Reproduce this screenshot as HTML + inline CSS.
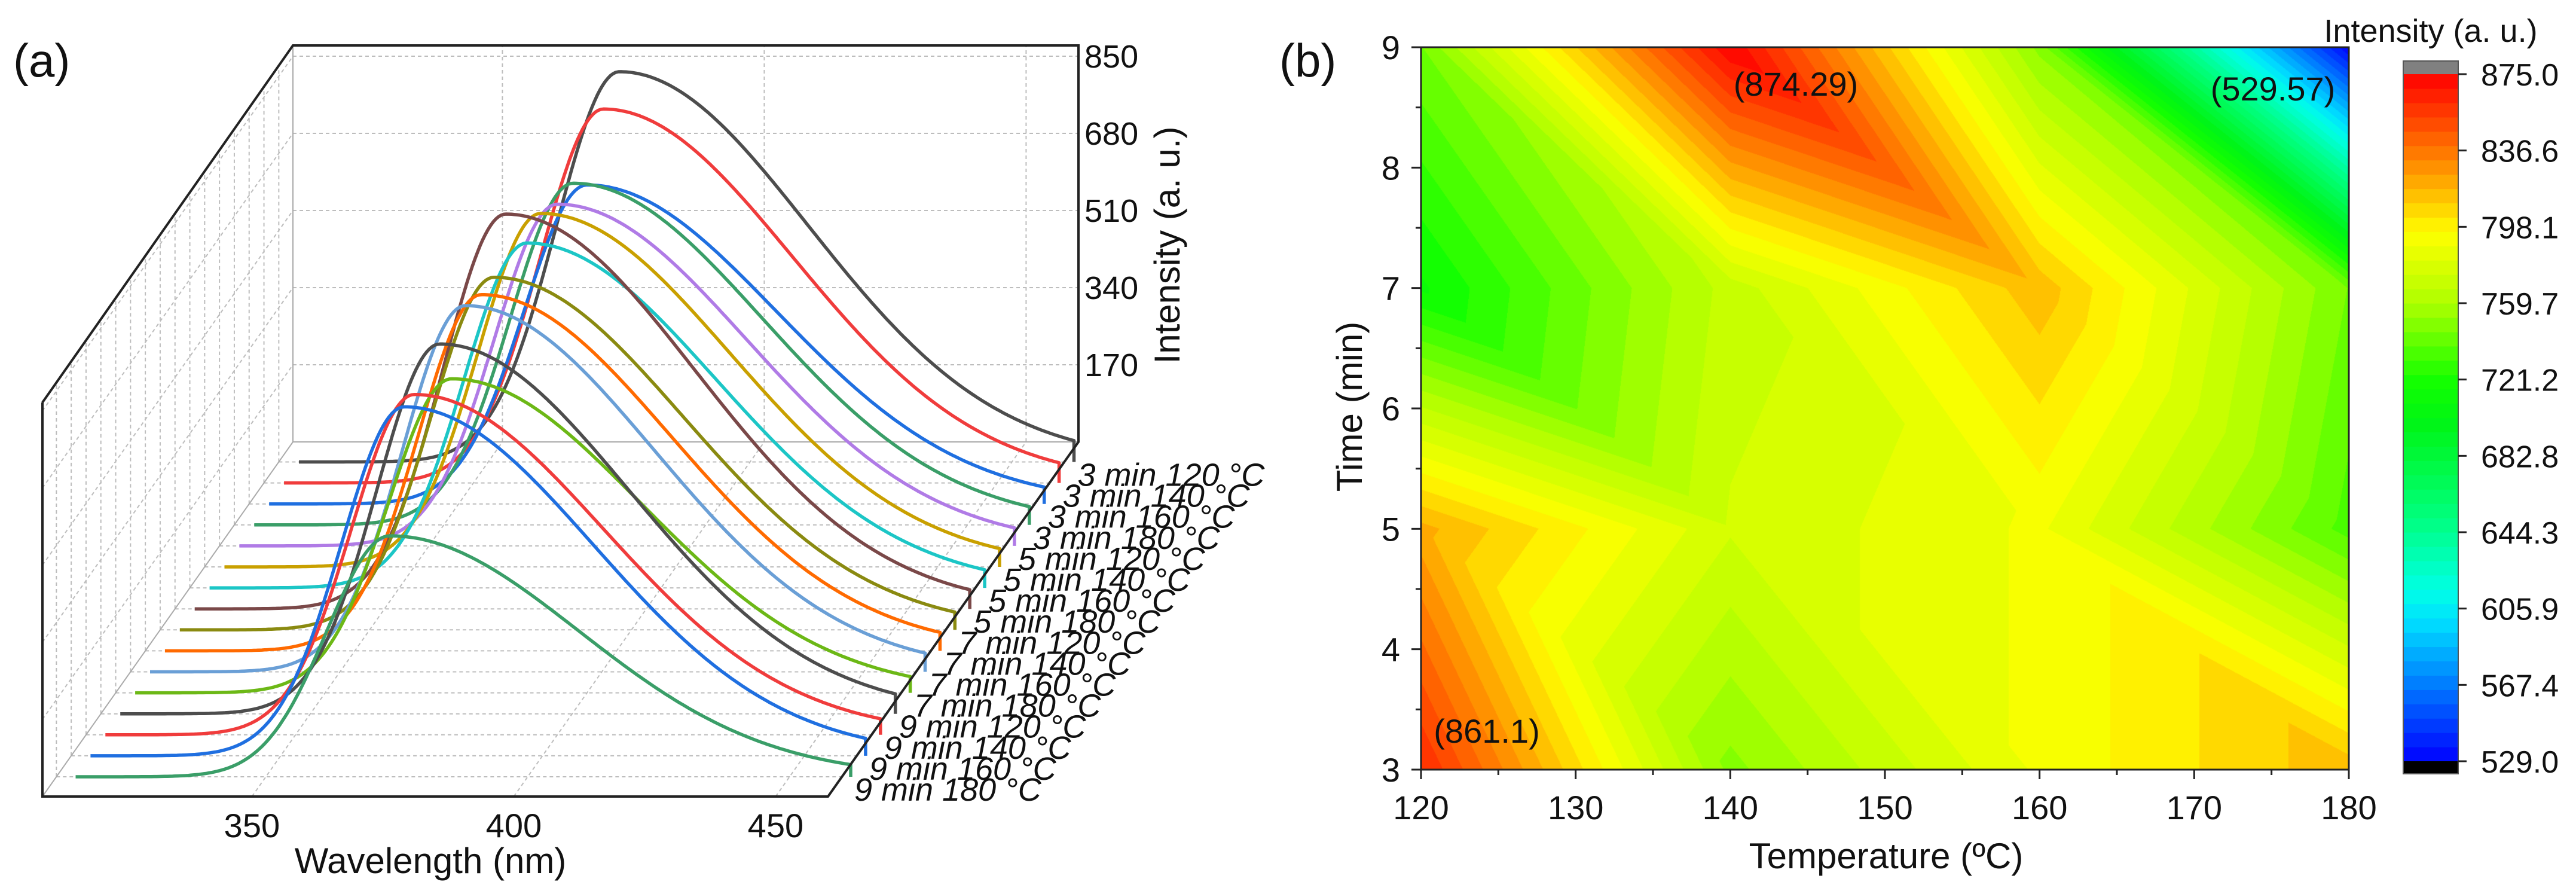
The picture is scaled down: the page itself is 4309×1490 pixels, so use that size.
<!DOCTYPE html>
<html><head><meta charset="utf-8">
<style>
html,body{margin:0;padding:0;background:#fff;}
#root{position:relative;width:4309px;height:1490px;overflow:hidden;font-family:"Liberation Sans",sans-serif;}
svg{position:absolute;left:0;top:0;}
#heat{position:absolute;left:2377px;top:79px;}
</style></head>
<body>
<div id="root">
<canvas id="heat" width="1552" height="1208"></canvas>
<svg id="svg" width="4309" height="1490" xmlns="http://www.w3.org/2000/svg"></svg>
</div>
<script>
// ---------- Panel (a) data ----------
const seriesLabels = ["3 min 120 °C","3 min 140 °C","3 min 160 °C","3 min 180 °C","5 min 120 °C","5 min 140 °C","5 min 160 °C","5 min 180 °C","7 min 120 °C","7 min 140 °C","7 min 160 °C","7 min 180 °C","9 min 120 °C","9 min 140 °C","9 min 160 °C","9 min 180 °C"];
const peakIntensity = [860,824,703,753,753,779,760,870,777,785,807,692,815,750,769,531];
const peakWavelength = [373.2,373,372.7,372.9,372.7,372.4,372.6,371.4,372,372.4,372.2,372.4,373,371,371.9,372];
const seriesColors = ["#4d4d4d","#f03c3c","#1f6fe0","#3a9e68","#b07be6","#c9a000","#1cc6c6","#7a4848","#8a8a10","#ff6a00","#6a9fd6","#6cb816","#4d4d4d","#f03c3c","#1f6fe0","#3a9e68"];
const intensityTicks = [170,340,510,680,850];
const wavelengthTicks = [350,400,450];

// ---------- Panel (b) data ----------
const temps = [120,140,160,180];
const times = [3,5,7,9];
const gridT3 = [861.1,750,790,815];
const gridT5 = [820,775,790,735];
const gridT7 = [715,770,815,745];
const gridT9 = [745,874.29,750,529.57];
const cbarTicks = ["875.0","836.6","798.1","759.7","721.2","682.8","644.3","605.9","567.4","529.0"];
const xTicksB = [120,130,140,150,160,170,180];
const yTicksB = [3,4,5,6,7,8,9];

const NS="http://www.w3.org/2000/svg";
const svg=document.getElementById('svg');
function el(tag,attrs,parent){const e=document.createElementNS(NS,tag);for(const k in attrs)e.setAttribute(k,attrs[k]);(parent||svg).appendChild(e);return e;}
function txt(s,attrs,parent){const e=el('text',attrs,parent);e.textContent=s;return e;}

// ---- Panel (a) geometry ----
const gA=el('g',{});


const FX0=71, FY0=1332, DX=419, DY=-593;
const wMin=310, pxPerNm=8.76, pxPerInt=129/170;
function xW(w){return FX0+(w-wMin)*pxPerNm;}
const dash={stroke:'#bdbdbd','stroke-width':2,'stroke-dasharray':'6,5',fill:'none'};
function dep(k){return {ox:38+(15-k)*24.9, oy:-(33+(15-k)*35.1)};}

for(const v of intensityTicks){const y=FY0+DY-v*pxPerInt;
  const l=el('line',Object.assign({x1:FX0+DX,y1:y,x2:xW(460)+DX,y2:y},dash),gA);
  
  const l2=el('line',Object.assign({x1:FX0,y1:FY0-v*pxPerInt,x2:FX0+DX,y2:y},dash),gA);
  
}
for(const w of wavelengthTicks){const x=xW(w);
  const l=el('line',Object.assign({x1:x+DX,y1:FY0+DY,x2:x+DX,y2:FY0+DY-665},dash),gA);
  
  const l2=el('line',Object.assign({x1:x,y1:FY0,x2:x+DX,y2:FY0+DY},dash),gA);
  
}
for(let k=0;k<16;k++){const d=dep(k);const y=FY0+d.oy;
  const l=el('line',Object.assign({x1:FX0+(FY0-y)*0.7066,y1:y,x2:xW(460)+(FY0-y)*0.7066,y2:y},dash),gA);
  
  const xv=FX0+(FY0-y)*0.7066;
  const l2=el('line',Object.assign({x1:xv,y1:y,x2:xv,y2:y-660},dash),gA);
  
}
el('line',{x1:FX0+DX,y1:FY0+DY,x2:xW(460)+DX,y2:FY0+DY,stroke:'#aaa','stroke-width':2},gA);
el('line',{x1:FX0+DX,y1:FY0+DY,x2:FX0+DX,y2:76,stroke:'#aaa','stroke-width':2},gA);
el('line',{x1:FX0,y1:FY0,x2:FX0+DX,y2:FY0+DY,stroke:'#aaa','stroke-width':2},gA);

for(let k=0;k<16;k++){
  const d=dep(k);const base=FY0+d.oy;let pts=[];
  for(let w=312;w<=460;w+=0.5){
    const dd=w-peakWavelength[k];const s=dd<0?12:36;
    const v=peakIntensity[k]*Math.exp(-0.5*(dd/s)*(dd/s));
    pts.push((xW(w)+d.ox).toFixed(1)+','+(base-v*pxPerInt).toFixed(1));
  }
  pts.push((xW(460)+d.ox).toFixed(1)+','+base.toFixed(1));
  const p=el('polyline',{points:pts.join(' '),fill:'none',stroke:seriesColors[k],'stroke-width':5.5,'stroke-linejoin':'round'},gA);
  
  
  const t=txt(seriesLabels[k],{x:1425+(15-k)*24.9+4,y:base+40,'font-size':54,'font-style':'italic',fill:'#111'},gA);
  
}
el('polyline',{points:`${FX0},673 ${FX0},${FY0} ${xW(460)},${FY0} ${xW(460)+DX},${FY0+DY} ${xW(460)+DX},76 ${FX0+DX},76 ${FX0},673`,fill:'none',stroke:'#222','stroke-width':4},gA);
for(const v of intensityTicks){
  const t=txt(String(v),{x:1814,y:FY0+DY-v*pxPerInt+19,'font-size':54,fill:'#111'},gA);
  
}
for(const w of wavelengthTicks){
  const t=txt(String(w),{x:xW(w),y:1400,'font-size':56,'text-anchor':'middle',fill:'#111'},gA);
  
}
let t1=txt('Wavelength (nm)',{x:720,y:1460,'font-size':60,'text-anchor':'middle',fill:'#111'},gA);

let t2=txt('Intensity (a. u.)',{x:0,y:0,'font-size':60,'text-anchor':'middle',fill:'#111',transform:'translate(1973,410) rotate(-90)'},gA);

let t3=txt('(a)',{x:22,y:128,'font-size':78,fill:'#111'},gA);


// ---- Panel (b) ----
const PX=2377,PY=79,PW=1552,PH=1208;
const vmin=529,vmax=875,NB=48;
const stops=[[529,[0,0,255]],[560,[0,100,255]],[600,[0,225,255]],[615,[0,255,230]],[650,[0,255,130]],[700,[0,245,20]],[721,[20,255,0]],[760,[175,255,0]],[795,[255,255,0]],[822,[255,165,0]],[850,[255,75,0]],[875,[255,0,0]]];
function cmap(v){
  let b=Math.floor((v-vmin)/((vmax-vmin)/NB));b=Math.max(0,Math.min(NB-1,b));
  const c=vmin+(b+0.5)*(vmax-vmin)/NB;
  for(let i=0;i<stops.length-1;i++){if(c<=stops[i+1][0]){const f=(c-stops[i][0])/(stops[i+1][0]-stops[i][0]);return stops[i][1].map((a,j)=>Math.round(a+(stops[i+1][1][j]-a)*f));}}
  return stops[stops.length-1][1];
}
const grid=[gridT3,gridT5,gridT7,gridT9];
function xB(T){return PX+(T-temps[0])/(temps[temps.length-1]-temps[0])*PW;}
function yB(t){return PY+PH-(t-times[0])/(times[times.length-1]-times[0])*PH;}
(function(){
  const cv=document.getElementById('heat');const ctx=cv.getContext('2d');const img=ctx.createImageData(PW,PH);
  const nx=temps.length-1, ny=times.length-1;
  for(let py=0;py<PH;py++){
    const gy=(PH-1-py)/(PH-1)*ny;let j=Math.min(ny-1,Math.floor(gy));const fy=gy-j;
    for(let px=0;px<PW;px++){
      const gx=px/(PW-1)*nx;let i=Math.min(nx-1,Math.floor(gx));const fx=gx-i;
      const v00=grid[j][i],v10=grid[j][i+1],v01=grid[j+1][i],v11=grid[j+1][i+1];
      let v;
      // diagonal from top-left (0,1) to bottom-right (1,0)
      if(fx+fy<=1) v=v00+(v10-v00)*fx+(v01-v00)*fy;
      else v=v11+(v01-v11)*(1-fx)+(v10-v11)*(1-fy);
      const col=cmap(v);const o=(py*PW+px)*4;img.data[o]=col[0];img.data[o+1]=col[1];img.data[o+2]=col[2];img.data[o+3]=255;
    }
  }
  ctx.putImageData(img,0,0);
})();
const gB=el('g',{});


el('rect',{x:PX,y:PY,width:PW,height:PH,fill:'none',stroke:'#222','stroke-width':3},gB);
for(let T=120;T<=180;T+=5){const x=xB(T);const major=(T%10===0);
  el('line',{x1:x,y1:PY+PH,x2:x,y2:PY+PH+(major?16:9),stroke:'#222','stroke-width':3},gB);}
for(const T of xTicksB){const t=txt(String(T),{x:xB(T),y:1370,'font-size':56,'text-anchor':'middle',fill:'#111'},gB);
  }
for(let tt=3;tt<=9;tt+=0.5){const y=yB(tt);const major=(tt%1===0);
  el('line',{x1:PX,y1:y,x2:PX-(major?16:9),y2:y,stroke:'#222','stroke-width':3},gB);}
for(const tt of yTicksB){const t=txt(String(tt),{x:2342,y:yB(tt)+20,'font-size':56,'text-anchor':'end',fill:'#111'},gB);
  }
let b1=txt('Temperature (ºC)',{x:3155,y:1452,'font-size':60,'text-anchor':'middle',fill:'#111'},gB);

let b2=txt('Time (min)',{x:0,y:0,'font-size':60,'text-anchor':'middle',fill:'#111',transform:'translate(2278,680) rotate(-90)'},gB);

let b3=txt('(b)',{x:2140,y:128,'font-size':78,fill:'#111'},gB);

const ann=[["(874.29)",3004,160],["(529.57)",3802,168],["(861.1)",2487,1242]];
for(const a of ann){const t=txt(a[0],{x:a[1],y:a[2],'font-size':56,'text-anchor':'middle',fill:'#111'},gB);
  }
const CBX=4020,CBW=92,CBT=124,CBB=1273;
el('rect',{x:CBX,y:102,width:CBW,height:CBT-102,fill:'#808080'},gB);
for(let b=0;b<NB;b++){const v0=vmin+b*(vmax-vmin)/NB;const col=cmap(v0+0.1);
  const y1=CBB-(b+1)/NB*(CBB-CBT),y0=CBB-b/NB*(CBB-CBT);
  const r=el('rect',{x:CBX,y:y1,width:CBW,height:y0-y1+0.6,fill:`rgb(${col[0]},${col[1]},${col[2]})`},gB);
  }
el('rect',{x:CBX,y:CBB,width:CBW,height:21,fill:'#000'},gB);
el('rect',{x:CBX,y:102,width:CBW,height:CBB-102+21,fill:'none',stroke:'#555','stroke-width':2},gB);
cbarTicks.forEach((s,i)=>{const y=CBT+i*(CBB-CBT)/(cbarTicks.length-1);
  el('line',{x1:CBX+CBW,y1:y,x2:CBX+CBW+14,y2:y,stroke:'#222','stroke-width':3},gB);
  const t=txt(s,{x:4150,y:y+19,'font-size':52,fill:'#111'},gB);
  });
let b4=txt('Intensity (a. u.)',{x:4066,y:70,'font-size':54,'text-anchor':'middle',fill:'#111'},gB);

</script>
</body></html>
